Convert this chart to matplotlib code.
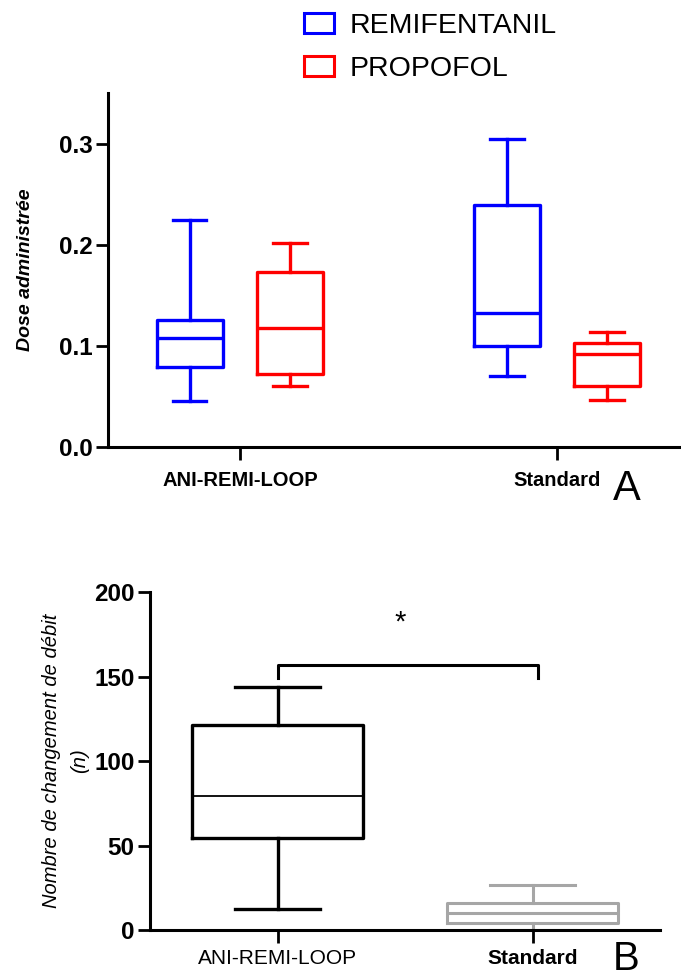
import matplotlib
matplotlib.use("Agg")
import matplotlib.pyplot as plt
from matplotlib.patches import Patch

# Panel A: dose given, per group and drug (whislo, q1, med, q3, whishi)
groups_a = ["ANI-REMI-LOOP", "Standard"]
remi = [[0.045, 0.079, 0.108, 0.126, 0.224],
        [0.070, 0.100, 0.132, 0.239, 0.305]]
propo = [[0.060, 0.072, 0.118, 0.173, 0.202],
         [0.046, 0.060, 0.092, 0.103, 0.114]]

# Panel B: number of rate changes
groups_b = ["ANI-REMI-LOOP", "Standard"]
changes = [[12.5, 54.5, 79.5, 121.5, 144],
           [0.0, 4.0, 10.0, 16.0, 26.5]]
sig_y = 157
sig_label = "*"

W, H = 681, 980
fig = plt.figure(figsize=(W / 100, H / 100), dpi=100)
plain = ["Liberation Sans", "DejaVu Sans"]


def stats(v):
    return dict(whislo=v[0], q1=v[1], med=v[2], q3=v[3], whishi=v[4], fliers=[])


def draw(ax, data, pos, width, color, lw, medlw):
    ax.bxp([stats(v) for v in data], positions=pos, widths=width,
           showfliers=False, manage_ticks=False,
           boxprops=dict(color=color, lw=lw),
           whiskerprops=dict(color=color, lw=lw),
           capprops=dict(color=color, lw=lw),
           medianprops=dict(color=color, lw=medlw))


def style(ax):
    for s in ["top", "right"]:
        ax.spines[s].set_visible(False)
    for s in ["left", "bottom"]:
        ax.spines[s].set_linewidth(2.2)
    ax.tick_params(width=2, length=9, direction="out")
    ax.tick_params(axis="y", pad=2)
    for t in ax.get_yticklabels():
        t.set_family(plain)
        t.set_fontweight("bold")
        t.set_fontsize(17.5)


# ---- Panel A
axA = fig.add_axes([108 / W, (980 - 447) / H, 1 - 108 / W, 354 / H])
off = 0.158
draw(axA, remi, [1 - off, 2 - off], 0.21, "#0000ff", 2.4, 2.4)
draw(axA, propo, [1 + off, 2 + off], 0.21, "#ff0000", 2.4, 2.4)
axA.set_xlim(0.584, 2.391)
axA.set_ylim(0, 0.35)
axA.set_yticks([0.0, 0.1, 0.2, 0.3])
axA.set_yticklabels(["0.0", "0.1", "0.2", "0.3"])
axA.set_xticks([1, 2])
axA.set_xticklabels(groups_a, family=plain, fontweight="bold", fontsize=14.5)
axA.tick_params(axis="x", pad=8)
style(axA)
axA.set_ylabel("Dose administrée", family=plain, fontweight="bold",
               style="italic", fontsize=14, labelpad=18)
fig.text(613 / W, 1 - 500 / H, "A", family=plain, fontsize=30)

fig.legend(handles=[Patch(facecolor="none", edgecolor="#0000ff", lw=2.2, label="REMIFENTANIL"),
                    Patch(facecolor="none", edgecolor="#ff0000", lw=2.2, label="PROPOFOL")],
           loc="upper left", bbox_to_anchor=(293 / W, 1 - 2 / H), frameon=False,
           prop=dict(family=plain, size=20.5), handlelength=1.05, handleheight=0.7,
           handletextpad=0.55, labelspacing=0.58, borderaxespad=0)

# ---- Panel B
axB = fig.add_axes([150 / W, 50 / H, 510 / W, 338 / H])
draw(axB, [changes[0]], [1], 0.667, "black", 2.4, 1.3)
draw(axB, [changes[1]], [2], 0.667, "#a6a6a6", 2.2, 2.2)
axB.set_xlim(0.5, 2.5)
axB.set_ylim(0, 200)
axB.set_yticks([0, 50, 100, 150, 200])
axB.set_xticks([1, 2])
axB.set_xticklabels(groups_b, family=plain, fontsize=15)
axB.get_xticklabels()[1].set_fontweight("bold")
axB.tick_params(axis="x", pad=5)
style(axB)
axB.set_ylabel("Nombre de changement de débit\n(n)", family=plain,
               style="italic", fontsize=14.5, labelpad=4, linespacing=1.55)
axB.plot([1, 1, 2.02, 2.02], [149, sig_y, sig_y, 149], color="black", lw=2.2,
         clip_on=False)
axB.text(1.48, 182, sig_label, ha="center", va="center", fontsize=21,
         family=plain)
fig.text(613 / W, 2 / H, "B", family=plain, fontsize=29, va="bottom")

fig.savefig("out.png", dpi=100)
